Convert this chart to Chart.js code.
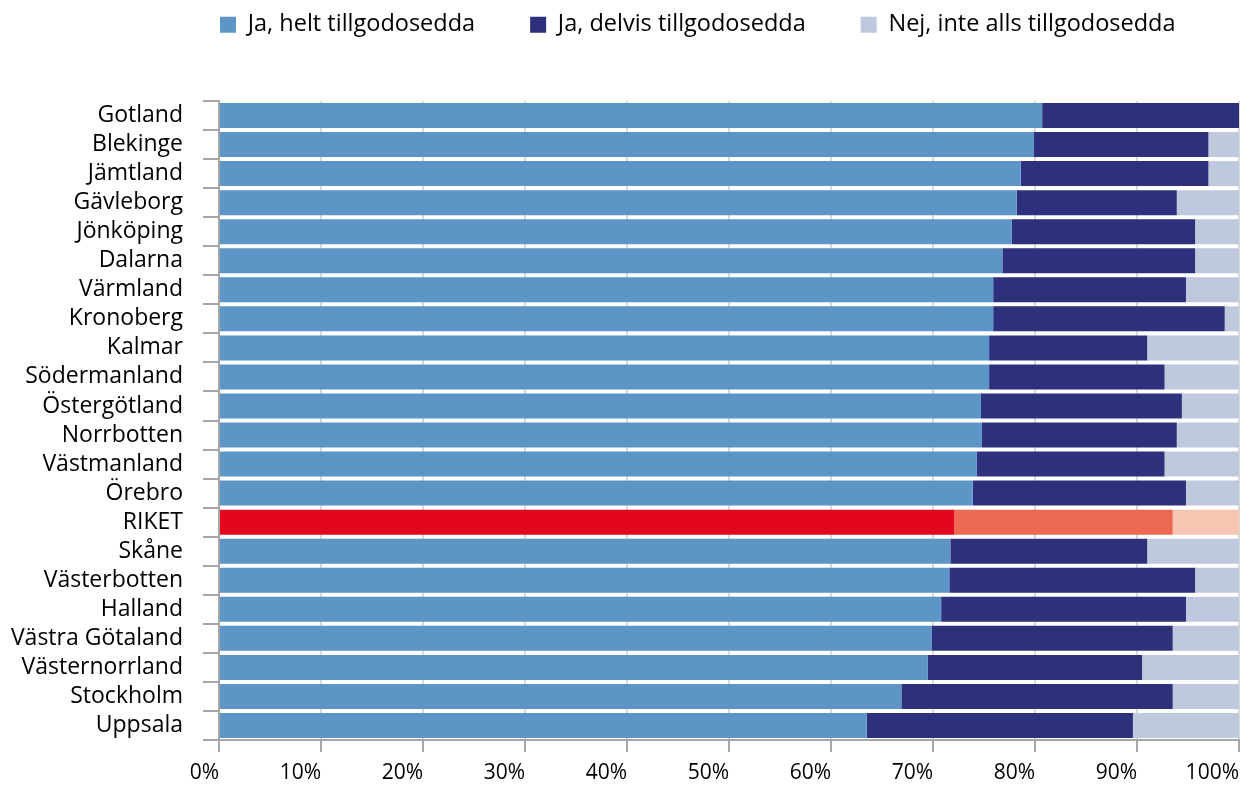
<!DOCTYPE html>
<html>
<head>
<meta charset="utf-8">
<script src="https://cdn.jsdelivr.net/npm/chart.js@4.4.1/dist/chart.umd.min.js"></script>
<style>
  html, body { margin: 0; padding: 0; background: #fff; }
  #wrap { width: 1247px; height: 790px; position: relative; }
</style>
</head>
<body>
<div id="wrap"><canvas id="chart"></canvas></div>
<script>
// Andel tillgodosedda, per län (procent)
const lan = ['Gotland', 'Blekinge', 'Jämtland', 'Gävleborg', 'Jönköping', 'Dalarna', 'Värmland',
  'Kronoberg', 'Kalmar', 'Södermanland', 'Östergötland', 'Norrbotten', 'Västmanland', 'Örebro',
  'RIKET', 'Skåne', 'Västerbotten', 'Halland', 'Västra Götaland', 'Västernorrland', 'Stockholm', 'Uppsala'];
const helt   = [80.7, 79.9, 78.6, 78.2, 77.7, 76.8, 75.9, 75.9, 75.5, 75.5, 74.7, 74.8, 74.3, 73.9,
  72.1, 71.7, 71.6, 70.8, 69.9, 69.5, 66.9, 63.5];
const delvis = [19.3, 17.1, 18.4, 15.7, 18.0, 18.9, 18.9, 22.7, 15.5, 17.2, 19.7, 19.1, 18.4, 20.9,
  21.4, 19.3, 24.1, 24.0, 23.6, 21.0, 26.6, 26.1];
const nej    = [0.0, 3.0, 3.0, 6.1, 4.3, 4.3, 5.2, 1.4, 9.0, 7.3, 5.6, 6.1, 7.3, 5.2,
  6.5, 9.0, 4.3, 5.2, 6.5, 9.5, 6.5, 10.4];
const serier = ['Ja, helt tillgodosedda', 'Ja, delvis tillgodosedda', 'Nej, inte alls tillgodosedda'];
const xTicks = [0, 10, 20, 30, 40, 50, 60, 70, 80, 90, 100];

const riketIdx = lan.indexOf('RIKET');
const FONT = { family: '"Open Sans", Lato, sans-serif', size: 23 };
const LEGEND_FONT = { family: '"Open Sans", Lato, sans-serif', size: 23.5 };
const TICK_FONT = { family: '"Open Sans", Lato, sans-serif', size: 21 };

// färg: blått för länen, rött för riket
const farg = (vanlig, riket) => c => (c.dataIndex === riketIdx ? riket : vanlig);

const legendPlugin = {
  id: 'legendPos',
  beforeInit(chart) {
    const origFit = chart.legend.fit;
    chart.legend.fit = function () {
      origFit.call(this);
      this.height = 101;
    };
  },
  afterLayout(chart) {
    // placera legenden som i originalet
    chart.legend.left = 220 - 55;
    chart.legend.top = 25 - 55 - 12;
  }
};

new Chart(document.getElementById('chart'), {
  type: 'bar',
  data: {
    labels: lan,
    datasets: [
      { label: serier[0], data: helt, backgroundColor: farg('#5E95C7', '#E2071C') },
      { label: serier[1], data: delvis, backgroundColor: farg('#2D307A', '#EC6A51') },
      { label: serier[2], data: nej, backgroundColor: farg('#BEC9DD', '#F8C5B2') }
    ]
  },
  options: {
    indexAxis: 'y',
    responsive: true,
    maintainAspectRatio: false,
    animation: false,
    layout: { padding: { top: 0, right: 0, bottom: 0, left: 0 } },
    datasets: { bar: { barPercentage: 0.86, categoryPercentage: 1, borderWidth: 0 } },
    plugins: {
      legend: {
        position: 'top',
        align: 'start',
        labels: { font: LEGEND_FONT, color: '#000', boxWidth: 16, boxHeight: 16, padding: 55 }
      },
      tooltip: { enabled: false }
    },
    scales: {
      x: {
        stacked: true,
        min: 0,
        max: 100,
        afterBuildTicks: s => { s.ticks = xTicks.map(v => ({ value: v })); },
        ticks: { callback: v => v + '%', font: TICK_FONT, color: '#000', align: 'end', padding: 8, maxRotation: 0 },
        grid: { color: '#D9D9D9', lineWidth: 2, tickColor: '#A6A6A6', tickLength: 12 },
        border: { color: '#A6A6A6', width: 2 },
        afterFit: s => { s.height = 50; }
      },
      y: {
        stacked: true,
        ticks: { font: FONT, color: '#000', padding: 20, autoSkip: false },
        grid: { drawOnChartArea: false, color: '#A6A6A6', lineWidth: 2, tickLength: 16, offset: true },
        border: { color: '#A6A6A6', width: 2 },
        afterFit: s => { s.width = 219; }
      }
    }
  },
  plugins: [legendPlugin]
});
</script>
</body>
</html>
